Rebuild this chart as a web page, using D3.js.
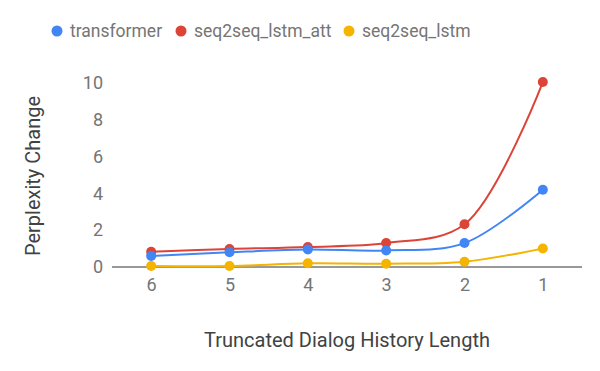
<!DOCTYPE html>
<html>
<head>
<meta charset="utf-8">
<script src="https://cdn.jsdelivr.net/npm/d3@7"></script>
<style>
  body { margin: 0; background: #fff; }
  text { font-family: Roboto, "Noto Sans", sans-serif; }
</style>
</head>
<body>
<svg id="chart"></svg>
<script>
// history lengths on the x axis (drawn right-to-left: 6 ... 1)
const categories = ["6", "5", "4", "3", "2", "1"];
const seriesNames = ["transformer", "seq2seq_lstm_att", "seq2seq_lstm"];
const transformer = [0.6, 0.8, 0.95, 0.9, 1.3, 4.2];
const seq2seqLstmAtt = [0.83, 0.98, 1.09, 1.3, 2.32, 10.05];
const seq2seqLstm = [0.05, 0.05, 0.2, 0.18, 0.29, 1.01];
const yTicks = [0, 2, 4, 6, 8, 10];

const colors = ["#4285F4", "#DB4437", "#F4B400"];
const allSeries = [transformer, seq2seqLstmAtt, seq2seqLstm];

const W = 600, H = 371;
const margin = {top: 83, right: 18, bottom: 104, left: 112};
const width = W - margin.left - margin.right,
    height = H - margin.top - margin.bottom;

const svg = d3.select("#chart")
    .attr("width", W)
    .attr("height", H);

const g = svg.append("g")
    .attr("transform", "translate(" + margin.left + "," + margin.top + ")");

const x = d3.scalePoint().domain(categories).range([0, width]).padding(0.5);
const y = d3.scaleLinear().domain([0, 10]).range([height, 0]);

// y tick labels (no gridlines)
const yAxis = g.append("g")
    .call(d3.axisLeft(y).tickValues(yTicks).tickSize(0).tickPadding(9));
yAxis.select(".domain").remove();
yAxis.selectAll("text")
    .attr("fill", "#757575")
    .style("font-size", "18px");

// x tick labels
const xAxis = g.append("g")
    .attr("transform", "translate(0," + height + ")")
    .call(d3.axisBottom(x).tickSize(0).tickPadding(11));
xAxis.select(".domain").remove();
xAxis.selectAll("text")
    .attr("fill", "#757575")
    .style("font-size", "18px");

// baseline
g.append("line")
    .attr("x1", 0).attr("x2", width)
    .attr("y1", y(0)).attr("y2", y(0))
    .attr("stroke", "#333")
    .attr("stroke-width", 1);

const line = d3.line()
    .curve(d3.curveCatmullRom.alpha(0.5))
    .x(function(d, i) { return x(categories[i]); })
    .y(function(d) { return y(d); });

// draw in reverse so transformer sits on top like the reference
[2, 1, 0].forEach(function(s) {
  g.append("path")
      .datum(allSeries[s])
      .attr("d", line)
      .attr("fill", "none")
      .attr("stroke", colors[s])
      .attr("stroke-width", 2);
  g.selectAll(".pt" + s)
      .data(allSeries[s])
      .enter().append("circle")
      .attr("cx", function(d, i) { return x(categories[i]); })
      .attr("cy", function(d) { return y(d); })
      .attr("r", 5)
      .attr("fill", colors[s]);
});

// legend
const legendX = [57, 181, 349];
const legend = svg.append("g");
seriesNames.forEach(function(name, i) {
  legend.append("circle")
      .attr("cx", legendX[i]).attr("cy", 31)
      .attr("r", 5.5)
      .attr("fill", colors[i]);
  legend.append("text")
      .attr("x", legendX[i] + 13).attr("y", 31)
      .attr("dy", "0.35em")
      .attr("fill", "#757575")
      .style("font-size", "17.5px")
      .text(name);
});

// axis titles
svg.append("text")
    .attr("x", 347).attr("y", 340)
    .attr("dy", "0.35em")
    .attr("text-anchor", "middle")
    .attr("fill", "#424242")
    .style("font-size", "20px")
    .text("Truncated Dialog History Length");

svg.append("text")
    .attr("transform", "translate(33,176) rotate(-90)")
    .attr("dy", "0.35em")
    .attr("text-anchor", "middle")
    .attr("fill", "#424242")
    .style("font-size", "20px")
    .text("Perplexity Change");
</script>
</body>
</html>
